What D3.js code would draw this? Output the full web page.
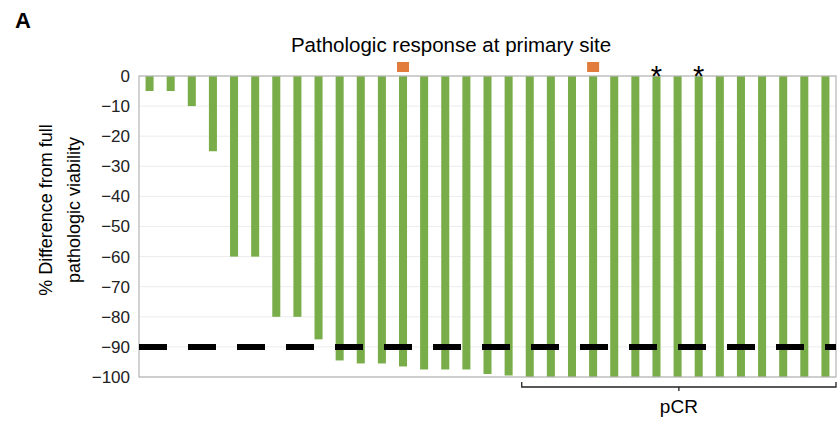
<!DOCTYPE html>
<meta charset="utf-8">
<head>
  <script src="https://cdnjs.cloudflare.com/ajax/libs/d3/7.8.5/d3.min.js"></script>
  <style>
    body { margin: 0; background: #fff; }
    svg { display: block; font-family: "Liberation Sans", Arial, sans-serif; }
  </style>
</head>
<body>
<div id="my_dataviz"></div>
<script>

// patients, ordered as in the waterfall
var patients = d3.range(1, 34).map(function (i) { return "P" + i; });

// % difference from full pathologic viability
var values = [-5, -5, -10, -25, -60, -60, -80, -80, -87.5, -94.5, -95.5, -95.5, -96.5, -97.5, -97.5, -97.5,
  -99, -99.5, -100, -100, -100, -100, -100, -100, -100, -100, -100, -100, -100, -100, -100, -100, -100];

// markers above bars
var orangeMarks = ["P13", "P22"];
var starMarks = ["P25", "P27"];

// pCR bracket spans these patients
var pcrRange = ["P19", "P33"];

var yTicks = d3.range(-100, 1, 10);
var threshold = -90;

var margin = { top: 76, right: 3, bottom: 44, left: 139 },
  width = 839 - margin.left - margin.right,
  height = 421 - margin.top - margin.bottom;

var root = d3.select("#my_dataviz")
  .append("svg")
  .attr("width", 839)
  .attr("height", 421);

var svg = root.append("g")
  .attr("transform", "translate(" + margin.left + "," + margin.top + ")");

var x = d3.scaleBand()
  .domain(patients)
  .range([0, width])
  .paddingInner(0.62)
  .paddingOuter(0.31);

var y = d3.scaleLinear()
  .domain([-100, 0])
  .range([height, 0]);

// grid lines
svg.selectAll("grid")
  .data(yTicks)
  .enter()
  .append("line")
  .attr("x1", 0)
  .attr("x2", width)
  .attr("y1", function (d) { return y(d); })
  .attr("y2", function (d) { return y(d); })
  .attr("stroke", "#ececec")
  .attr("stroke-width", 1);

// bars
svg.selectAll("mybar")
  .data(values)
  .enter()
  .append("rect")
  .attr("x", function (d, i) { return x(patients[i]); })
  .attr("y", y(0))
  .attr("width", x.bandwidth())
  .attr("height", function (d) { return y(d) - y(0); })
  .attr("fill", "#79ad4a");

// frame
svg.append("rect")
  .attr("x", 0).attr("y", 0)
  .attr("width", width).attr("height", height)
  .attr("fill", "none")
  .attr("stroke", "#b5b5b5")
  .attr("stroke-width", 1.2);

// Y axis
var yAxis = svg.append("g")
  .call(d3.axisLeft(y).tickValues(yTicks).tickSize(0).tickPadding(9));
yAxis.select(".domain").remove();
yAxis.selectAll("text")
  .style("font-size", "17px")
  .style("font-family", "Liberation Sans, Arial, sans-serif")
  .attr("fill", "#222");

// threshold dashed line
svg.append("line")
  .attr("x1", 0)
  .attr("x2", width)
  .attr("y1", y(threshold))
  .attr("y2", y(threshold))
  .attr("stroke", "#000")
  .attr("stroke-width", 6)
  .attr("stroke-dasharray", "28,21");

// orange markers
svg.selectAll("orange")
  .data(orangeMarks)
  .enter()
  .append("rect")
  .attr("x", function (d) { return x(d) + x.bandwidth() / 2 - 6; })
  .attr("y", -14)
  .attr("width", 12)
  .attr("height", 10)
  .attr("fill", "#e17c3d");

// asterisks
svg.selectAll("star")
  .data(starMarks)
  .enter()
  .append("text")
  .attr("x", function (d) { return x(d) + x.bandwidth() / 2; })
  .attr("y", 10)
  .attr("text-anchor", "middle")
  .style("font-size", "29px")
  .text("*");

// pCR bracket
var bx1 = x(pcrRange[0]) - 4,
  bx2 = width,
  by = height + 10,
  bmid = (bx1 + bx2) / 2;
svg.append("path")
  .attr("d", "M" + bx1 + "," + (by - 5) + "V" + by + "H" + bx2 + "V" + (by - 5) +
    "M" + bmid + "," + by + "V" + (by + 4))
  .attr("fill", "none")
  .attr("stroke", "#222")
  .attr("stroke-width", 1.3);

svg.append("text")
  .attr("x", bmid)
  .attr("y", height + 36)
  .attr("text-anchor", "middle")
  .style("font-size", "19px")
  .text("pCR");

// title
root.append("text")
  .attr("x", 451)
  .attr("y", 52)
  .attr("text-anchor", "middle")
  .style("font-size", "20.5px")
  .text("Pathologic response at primary site");

// panel letter
root.append("text")
  .attr("x", 15)
  .attr("y", 28)
  .style("font-size", "22px")
  .style("font-weight", "bold")
  .text("A");

// Y label
var yl = root.append("text")
  .attr("transform", "translate(56," + 210 + ")rotate(-90)")
  .attr("text-anchor", "middle")
  .style("font-size", "18px");
yl.append("tspan").attr("x", 0).attr("dy", "-0.2em").text("% Difference from full");
yl.append("tspan").attr("x", 0).attr("dy", "1.55em").text("pathologic viability");

</script>
</body>
